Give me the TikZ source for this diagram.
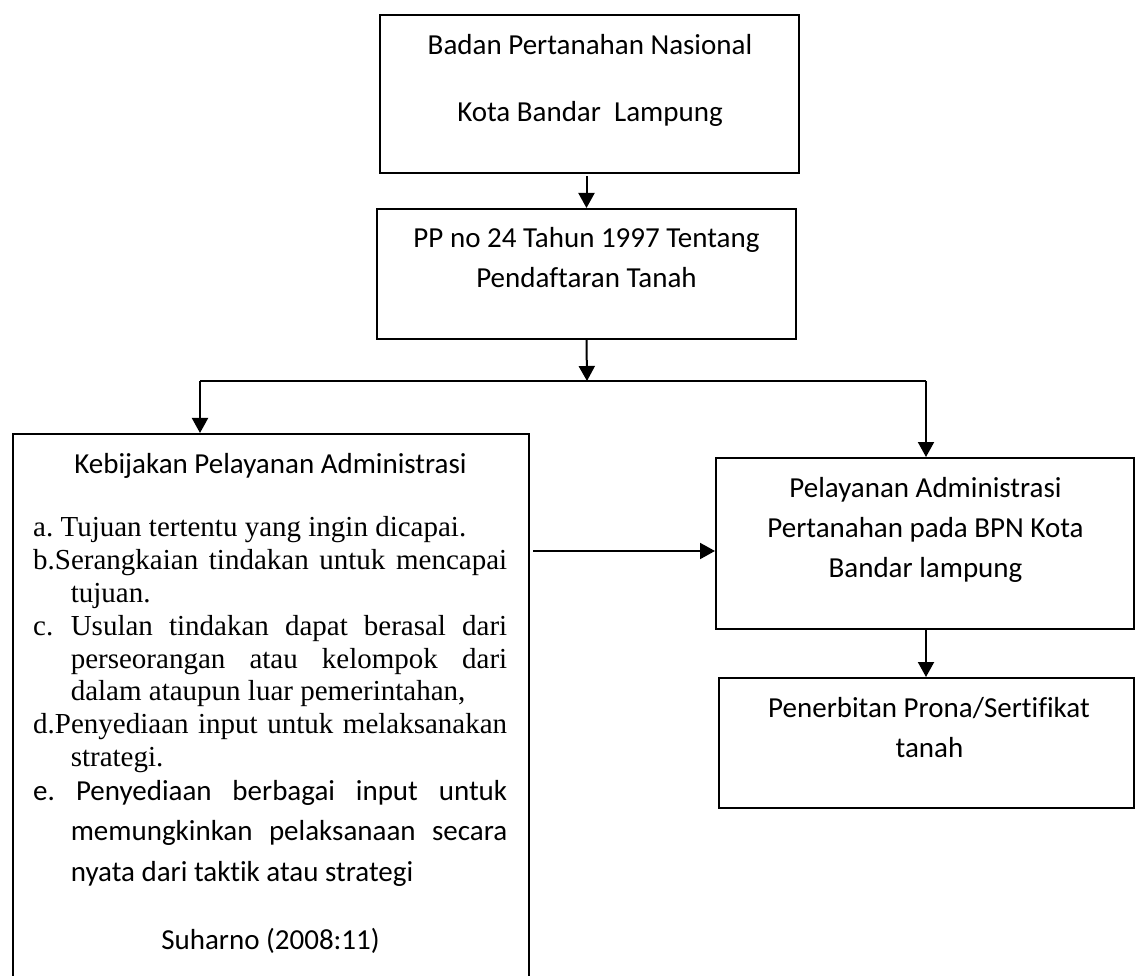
\documentclass[tikz,border=0pt]{standalone}
\usepackage{fontspec}
\setmainfont{Carlito}[RawFeature=-liga]
\newfontfamily\tms{Liberation Serif}[RawFeature=-liga]
\usetikzlibrary{arrows.meta}
\begin{document}
\frenchspacing
\begin{tikzpicture}[x=1pt,y=-1pt,
  box/.style={draw=black,line width=2pt,inner sep=0pt,fill=none},
  arr/.style={line width=2pt,-{Triangle[width=16pt,length=15pt]}},
  lbl/.style={inner sep=0pt,anchor=base,font=\fontsize{29}{35}\selectfont},
  itm/.style={inner sep=0pt,anchor=base west,font=\fontsize{29}{33}\selectfont\tms},
  itms/.style={inner sep=0pt,anchor=base west,font=\fontsize{29}{35}\selectfont}]
\useasboundingbox (0,0) rectangle (1136,976);
\clip (0,0) rectangle (1136,976);
\fill[white] (0,0) rectangle (1136,976);

% boxes
\node[box,minimum width=419pt,minimum height=158pt] (bpn) at (589.5,94) {};
\node[box,minimum width=419pt,minimum height=130pt] (pp) at (586.5,274) {};
\node[box,minimum width=516pt,minimum height=566pt] (keb) at (271,717) {};
\node[box,minimum width=418pt,minimum height=171pt] (pel) at (925,543.5) {};
\node[box,minimum width=415pt,minimum height=130pt] (pen) at (926.5,743) {};

% texts
\node[lbl] (t1) at (590,55) {Badan Pertanahan Nasional};
\node[lbl] (t2) at (590,122) {Kota Bandar~ Lampung};
\node[lbl] (t3) at (586.5,248) {PP no 24 Tahun 1997 Tentang};
\node[lbl] (t4) at (586.5,288) {Pendaftaran Tanah};
\node[lbl] (t5) at (925.5,497) {Pelayanan Administrasi};
\node[lbl] (t6) at (925.5,537) {Pertanahan pada BPN Kota};
\node[lbl] (t7) at (925.5,577) {Bandar lampung};
\node[lbl] (t8) at (929,717) {Penerbitan Prona/Sertifikat};
\node[lbl] (t9) at (929.5,757) {tanah};

\node[lbl] (k0) at (270.5,473) {Kebijakan Pelayanan Administrasi};
\node[itm] (ka) at (33,536) {a. Tujuan tertentu yang ingin dicapai.};
\node[itm] (kb) at (33,569) {\makebox[474pt][s]{b.Serangkaian tindakan untuk mencapai}};
\node[itm] (kb2) at (70.6,602) {tujuan.};
\node[itm] (kc) at (33,635) {c.};
\node[itm] (kc1) at (70.6,635) {\makebox[436.4pt][s]{Usulan tindakan dapat berasal dari}};
\node[itm] (kc2) at (70.6,668) {\makebox[436.4pt][s]{perseorangan atau kelompok dari}};
\node[itm] (kc3) at (70.6,700) {dalam ataupun luar pemerintahan,};
\node[itm] (kd) at (33,733) {\makebox[474pt][s]{d.Penyediaan input untuk melaksanakan}};
\node[itm] (kd2) at (70.6,766) {strategi.};
\node[itms] (ke) at (33,800) {e.};
\node[itms] (ke1) at (75.8,800) {\makebox[431.2pt][s]{Penyediaan berbagai input untuk}};
\node[itms] (ke2) at (70.6,840) {\makebox[436.4pt][s]{memungkinkan pelaksanaan secara}};
\node[itms] (ke3) at (70.6,881) {nyata dari taktik atau strategi};
\node[lbl] (ks) at (270.5,949) {Suharno (2008:11)};

% connectors
\coordinate (j) at (587,381);
\coordinate (jl) at (200,381);
\coordinate (jr) at (926,381);
\coordinate (h) at (533,551);
\draw[arr] (pp.north |- 0,176) -- (pp.north);
\draw[arr] (pp.south) -- (j);
\draw[line width=2pt] (jl) -- (jr);
\draw[arr] (jl) -- (jl |- keb.north);
\draw[arr] (jr) -- (jr |- pel.north);
\draw[arr] (h) -- (h -| pel.west);
\draw[arr] (pel.south -| jr) -- (jr |- pen.north);
\end{tikzpicture}
\end{document}
